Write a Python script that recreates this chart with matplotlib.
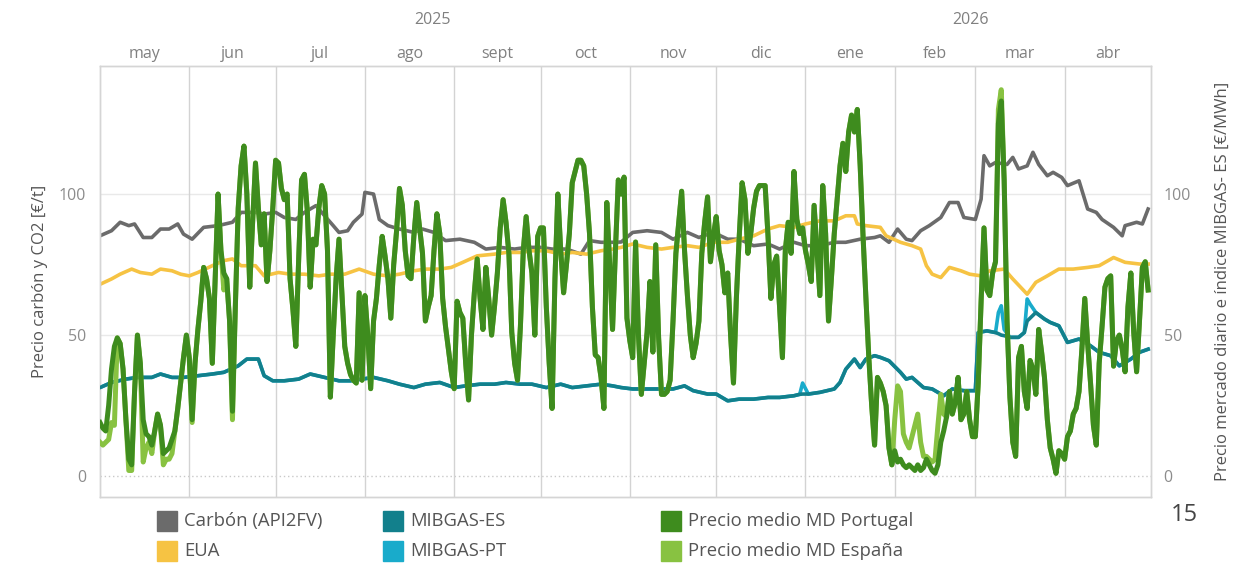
import matplotlib
matplotlib.use("Agg")
import matplotlib.pyplot as plt
import pandas as pd
from matplotlib.patches import Rectangle

plt.rcParams['font.family'] = ['Open Sans', 'DejaVu Sans']

start = pd.Timestamp('2025-05-01')
month_labels = ['may', 'jun', 'jul', 'ago', 'sept', 'oct', 'nov', 'dic', 'ene', 'feb', 'mar', 'abr']
year_labels = ['2025', '2026']
y_ticks = [0, 50, 100]

# Precio medio MD Portugal (€/MWh), daily from 2025-05-01
portugal = [
    19, 17, 16, 25, 38, 46, 49, 47, 38, 20,
    6, 4, 30, 50, 40, 20, 15, 14, 11, 16,
    22, 18, 8, 9, 10, 13, 16, 24, 33, 42,
    50, 42, 20, 40, 52, 62, 74, 70, 63, 40,
    70, 100, 80, 72, 70, 55, 23, 60, 95, 110,
    117, 100, 67, 90, 111, 95, 82, 93, 69, 80,
    95, 112, 111, 102, 98, 100, 70, 59, 46, 77,
    105, 107, 94, 67, 84, 82, 95, 103, 100, 80,
    28, 50, 70, 84, 65, 46, 40, 36, 34, 33,
    65, 34, 64, 50, 31, 55, 63, 75, 85, 78,
    70, 56, 75, 87, 102, 96, 80, 71, 70, 85,
    97, 88, 79, 55, 60, 64, 80, 93, 86, 63,
    53, 45, 37, 31, 62, 58, 56, 40, 27, 50,
    65, 77, 63, 52, 74, 63, 50, 60, 72, 88,
    98, 90, 79, 51, 40, 34, 53, 80, 92, 80,
    72, 50, 85, 88, 88, 60, 40, 24, 70, 100,
    80, 65, 75, 86, 104, 108, 112, 112, 110, 100,
    86, 60, 43, 42, 35, 24, 97, 75, 52, 80,
    105, 100, 106, 56, 48, 42, 83, 50, 29, 40,
    51, 69, 44, 82, 49, 29, 29, 30, 34, 55,
    79, 90, 101, 80, 64, 50, 42, 47, 55, 79,
    90, 99, 76, 85, 92, 80, 75, 65, 72, 50,
    33, 63, 85, 104, 98, 79, 86, 95, 101, 103,
    103, 103, 85, 63, 75, 78, 60, 42, 80, 90,
    79, 108, 91, 86, 88, 80, 75, 69, 96, 80,
    64, 103, 86, 55, 70, 86, 98, 110, 118, 108,
    122, 128, 122, 130, 110, 85, 63, 42, 25, 11,
    35, 33, 30, 25, 10, 4, 9, 5, 6, 4,
    3, 4, 3, 2, 4, 2, 3, 6, 4, 2,
    1, 4, 12, 16, 21, 30, 22, 26, 35, 20,
    22, 30, 20, 14, 14, 33, 62, 88, 66, 64,
    72, 76, 125, 133, 105, 55, 28, 12, 7, 42,
    46, 30, 24, 41, 38, 29, 52, 44, 35, 20,
    10, 6, 1, 9, 8, 6, 14, 16, 22, 24,
    30, 45, 63, 47, 33, 18, 11, 40, 53, 67,
    70, 71, 39, 48, 50, 45, 37, 60, 72, 51,
    37, 55, 74, 76, 66,
]

# Precio medio MD España (€/MWh), daily from 2025-05-01
espana = [
    12, 11, 12, 13, 19, 18, 49, 47, 38, 20,
    2, 2, 30, 50, 40, 5, 10, 12, 8, 16,
    22, 18, 4, 6, 6, 8, 16, 24, 33, 42,
    50, 42, 19, 40, 52, 62, 74, 70, 63, 40,
    70, 100, 80, 66, 70, 55, 20, 60, 95, 110,
    117, 100, 67, 90, 111, 95, 82, 93, 69, 80,
    95, 112, 111, 102, 98, 100, 70, 59, 46, 77,
    105, 107, 94, 67, 84, 82, 95, 103, 100, 80,
    28, 50, 70, 84, 65, 46, 40, 36, 34, 33,
    65, 34, 64, 50, 31, 55, 63, 75, 85, 78,
    70, 56, 75, 87, 102, 96, 80, 71, 70, 85,
    97, 88, 79, 55, 60, 64, 80, 93, 86, 63,
    53, 45, 37, 31, 62, 58, 56, 40, 27, 50,
    65, 77, 63, 52, 74, 63, 50, 60, 72, 88,
    98, 90, 79, 51, 40, 34, 53, 80, 92, 80,
    72, 50, 85, 88, 88, 60, 40, 24, 70, 100,
    80, 65, 75, 86, 104, 108, 112, 112, 110, 100,
    86, 60, 43, 42, 35, 24, 97, 75, 52, 80,
    105, 100, 106, 56, 48, 42, 83, 50, 29, 40,
    51, 69, 44, 82, 49, 29, 29, 30, 34, 55,
    79, 90, 101, 80, 64, 50, 42, 47, 55, 79,
    90, 99, 76, 85, 92, 80, 75, 65, 72, 50,
    33, 63, 85, 104, 98, 79, 86, 95, 101, 103,
    103, 103, 85, 63, 75, 78, 60, 42, 80, 90,
    79, 108, 91, 86, 88, 80, 75, 69, 96, 80,
    64, 103, 86, 55, 70, 86, 98, 110, 118, 108,
    122, 128, 122, 130, 110, 85, 63, 42, 25, 11,
    35, 33, 30, 25, 10, 4, 20, 32, 30, 15,
    12, 10, 14, 18, 22, 12, 7, 7, 6, 5,
    6, 18, 29, 22, 21, 30, 22, 26, 35, 20,
    22, 30, 20, 14, 14, 33, 62, 88, 66, 64,
    72, 76, 130, 137, 105, 55, 28, 12, 7, 42,
    46, 30, 24, 41, 38, 29, 52, 44, 35, 20,
    10, 6, 1, 9, 8, 6, 14, 16, 22, 24,
    30, 45, 63, 47, 33, 18, 11, 40, 53, 67,
    70, 71, 39, 48, 50, 45, 37, 60, 72, 51,
    37, 55, 74, 76, 66,
]

# Carbón (API2FV) €/t
carbon_days = [0, 4, 7, 10, 12, 15, 18, 21, 24, 27, 29, 32, 36, 41, 46, 49, 54, 57, 61, 64,
               68, 71, 75, 78, 81, 83, 86, 88, 91, 92, 95, 97, 100, 104, 109, 112, 116, 120, 125, 130,
               134, 139, 144, 148, 153, 157, 162, 167, 170, 174, 178, 181, 185, 190, 195, 199, 204, 208, 213, 218,
               222, 227, 232, 236, 241, 245, 250, 255, 259, 264, 269, 271, 274, 277, 280, 282, 285, 288, 292, 295,
               298, 300, 304, 306, 307, 309, 311, 315, 317, 319, 322, 324, 326, 329, 331, 334, 336, 340, 343, 346,
               348, 352, 355, 356, 360, 362, 364]
carbon = [85.2, 87, 90, 88.8, 89.4, 84.6, 84.6, 87.6, 87.6, 89.4, 85.8, 84, 88.2, 88.8, 90, 93.5, 93.5, 92.9, 93.5, 91.7,
          91, 93.5, 95.9, 92.3, 88.8, 86.4, 87, 90, 92.9, 100.6, 100, 91, 88.8, 87.6, 86.4, 87.6, 86.4, 83.5, 84, 82.9,
          80.5, 81.1, 80.5, 81.1, 81.1, 80.5, 80.5, 78.7, 83.5, 82.9, 82.9, 83, 86.4, 87, 86.4, 84, 86.4, 84.6, 86.4, 84,
          84, 81.7, 82.3, 80.5, 82.9, 81.7, 81.7, 82.9, 82.9, 84, 84.6, 85.2, 82.9, 87.6, 84, 83.5, 87, 88.8, 91.7, 97,
          97, 91.7, 91, 98.2, 113.6, 110, 111.2, 110.5, 113, 108.9, 110, 114.8, 110.5, 106.5, 107.7, 105.9, 103, 104.7, 94.7, 93.5,
          91, 88.2, 85.2, 88.8, 90, 89.4, 94.7]

# EUA €/t
eua_days = [0, 4, 7, 11, 14, 18, 21, 25, 28, 31, 34, 39, 43, 46, 49, 54, 57, 62, 66, 71,
            76, 80, 85, 90, 95, 100, 104, 109, 113, 118, 122, 126, 131, 137, 141, 146, 150, 155, 160, 164,
            169, 174, 178, 181, 185, 190, 195, 199, 204, 208, 213, 218, 222, 227, 232, 236, 241, 245, 250, 255,
            259, 262, 263, 266, 271, 273, 278, 282, 285, 287, 289, 292, 295, 299, 302, 306, 309, 314, 317, 322,
            325, 329, 333, 338, 343, 347, 352, 356, 361, 364]
eua = [68, 69.9, 71.6, 73.4, 72.2, 71.6, 73.4, 72.8, 71.6, 71, 72.2, 74.6, 76.4, 77, 74.6, 74.6, 71, 72.2, 71.6, 71.6,
       71, 71.6, 71.6, 73.4, 71.6, 71, 71.6, 72.8, 73.4, 73.4, 74, 75.8, 78.1, 78.7, 79.3, 79.3, 79.9, 79.9, 78.7, 79.3,
       78.7, 79.9, 80.5, 81.1, 82.3, 81.1, 80.5, 81.1, 81.7, 81.1, 82.9, 82.9, 84, 85.2, 87.6, 88.8, 88.2, 89.4, 90.5, 90.5,
       92.3, 92.3, 89.4, 88.8, 88.2, 85.2, 82.9, 81.7, 80.5, 74.6, 71.6, 70.4, 74, 72.8, 71.6, 71, 72.8, 73.4, 69.9, 64.5,
       68.7, 71, 73.4, 73.4, 74, 74.6, 77.5, 75.8, 75.2, 75.2]

# MIBGAS (€/MWh)
gas_days = [0, 4, 9, 13, 18, 21, 25, 29, 34, 39, 43, 48, 51, 55, 57, 60, 64, 69, 73, 78,
            83, 87, 91, 95, 100, 104, 109, 113, 118, 123, 127, 132, 137, 141, 146, 150, 155, 160, 164, 169,
            174, 178, 181, 185, 190, 195, 199, 203, 206, 211, 214, 218, 222, 227, 232, 236, 241, 243, 244, 246,
            250, 255, 257, 259, 262, 264, 266, 269, 271, 274, 278, 280, 282, 286, 289, 293, 296, 300, 304, 305,
            308, 311, 312, 313, 314, 316, 319, 321, 322, 323, 325, 328, 330, 333, 336, 340, 344, 347, 351, 354,
            358, 361, 364]
mibgas_es = [31.4, 33.2, 34.4, 35, 35, 36.2, 35, 35, 35.6, 36.2, 36.8, 39.1, 41.5, 41.5, 35.6, 33.8, 33.8, 34.4, 36.2, 35,
             33.8, 33.8, 34.4, 35, 33.8, 32.6, 31.4, 32.6, 33.2, 31.4, 32, 32.6, 32.6, 33.2, 32.6, 32.6, 31.4, 32.6, 31.4, 32,
             32.6, 32, 31.4, 30.9, 30.9, 30.9, 30.9, 32, 30.3, 29.1, 29.1, 26.7, 27.3, 27.3, 27.9, 27.9, 28.5, 29, 29.1, 29.1,
             29.7, 30.9, 33.2, 37.9, 41.5, 38.5, 41.5, 42.7, 42.1, 40.9, 36.8, 34.4, 35, 31.4, 30.9, 28.5, 30.9, 30.3, 30.3, 50.9,
             51.5, 50.9, 50.5, 50, 49.8, 49.2, 49.2, 50.9, 55, 56, 58, 55.7, 54.5, 53.3, 47.4, 48.6, 46.2, 43.9, 42.7, 39.1,
             41.5, 43.9, 45]
mibgas_pt = [31.4, 33.2, 34.4, 35, 35, 36.2, 35, 35, 35.6, 36.2, 36.8, 39.1, 41.5, 41.5, 35.6, 33.8, 33.8, 34.4, 36.2, 35,
             33.8, 33.8, 34.4, 35, 33.8, 32.6, 31.4, 32.6, 33.2, 31.4, 32, 32.6, 32.6, 33.2, 32.6, 32.6, 31.4, 32.6, 31.4, 32,
             32.6, 32, 31.4, 30.9, 30.9, 30.9, 30.9, 32, 30.3, 29.1, 29.1, 26.7, 27.3, 27.3, 27.9, 27.9, 28.5, 29, 33, 29.1,
             29.7, 30.9, 33.2, 37.9, 41.5, 38.5, 41.5, 42.7, 42.1, 40.9, 36.8, 34.4, 35, 31.4, 30.9, 28.5, 30.9, 30.3, 30.3, 50.9,
             51.5, 50.9, 58, 60.4, 52, 49.2, 49.2, 50.9, 62.8, 61, 58, 55.7, 54.5, 53.3, 47.4, 48.6, 46.2, 43.9, 42.7, 39.1,
             41.5, 43.9, 45]

C_CARBON = '#6b6b6b'
C_EUA = '#F6C343'
C_ES_GAS = '#12808C'
C_PT_GAS = '#19ABCB'
C_PT = '#3E8C1E'
C_ES = '#88C241'


def to_dates(days):
    return start + pd.to_timedelta(days, unit='D')


daily = to_dates(list(range(len(portugal))))

fig = plt.figure(figsize=(12.34, 5.65), dpi=100)
ax = fig.add_axes([0.08104, 0.12035, 0.85170, 0.76283])
ax2 = ax.twinx()

ylim = (-7.4, 145.4)
month_starts = pd.date_range(start, periods=13, freq='MS')
ax.set_xlim(month_starts[0], month_starts[-1])
ax.set_ylim(*ylim)
ax2.set_ylim(*ylim)

# grid
for v in (50, 100):
    ax.axhline(v, color='#e9e9e9', lw=1, zorder=0)
ax.axhline(0, color='#c9c9c9', lw=1, ls=(0, (1, 2)), zorder=0)
for m in month_starts[1:-1]:
    ax.axvline(m, color='#d3d3d3', lw=1, zorder=0.5)

ax.plot(to_dates(carbon_days), carbon, color=C_CARBON, lw=2.6, zorder=2, solid_joinstyle='round')
ax.plot(to_dates(eua_days), eua, color=C_EUA, lw=2.6, zorder=2, solid_joinstyle='round')

ax2.plot(to_dates(gas_days), mibgas_pt, color=C_PT_GAS, lw=2.6, zorder=2, solid_joinstyle='round')
ax2.plot(to_dates(gas_days), mibgas_es, color=C_ES_GAS, lw=2.6, zorder=3, solid_joinstyle='round')
ax2.plot(daily, espana, color=C_ES, lw=3.6, zorder=4, solid_joinstyle='round')
ax2.plot(daily, portugal, color=C_PT, lw=3.6, zorder=5, solid_joinstyle='round')

for a in (ax, ax2):
    for s in a.spines.values():
        s.set_color('#d5d5d5')
        s.set_linewidth(1)

# month labels on top
mids = [month_starts[i] + (month_starts[i + 1] - month_starts[i]) / 2 for i in range(12)]
ax.set_xticks(mids)
ax.set_xticklabels(month_labels)
ax.tick_params(axis='x', top=True, bottom=False, labeltop=True, labelbottom=False,
               length=0, pad=3, labelcolor='#808080', labelsize=11.5)
ax2.tick_params(axis='x', length=0)

ax.text(0.316, 1.107, year_labels[0], transform=ax.transAxes, ha='center', va='center',
        fontsize=11.5, color='#808080')
ax.text(0.828, 1.107, year_labels[1], transform=ax.transAxes, ha='center', va='center',
        fontsize=11.5, color='#808080')

ax.set_yticks(y_ticks)
ax2.set_yticks(y_ticks)
ax.tick_params(axis='y', length=0, pad=10, labelcolor='#8c8c8c', labelsize=11.5)
ax2.tick_params(axis='y', length=0, pad=9, labelcolor='#8c8c8c', labelsize=11.5)

ax.set_ylabel('Precio carbón y CO2 [€/t]', fontsize=12, color='#555555')
ax.yaxis.set_label_coords(-0.0495, 0.5)
ax2.set_ylabel('Precio mercado diario e índice MIBGAS- ES [€/MWh]', fontsize=12, color='#555555')
ax2.yaxis.set_label_coords(1.061, 0.5)

# legend
entries = [
    ('Carbón (API2FV)', C_CARBON, 157, 0), ('EUA', C_EUA, 157, 1),
    ('MIBGAS-ES', C_ES_GAS, 383, 0), ('MIBGAS-PT', C_PT_GAS, 383, 1),
    ('Precio medio MD Portugal', C_PT, 661, 0), ('Precio medio MD España', C_ES, 661, 1),
]
W, H = 1234, 565
for label, col, x0, row in entries:
    yc = 521 + 30 * row
    fig.patches.append(Rectangle((x0 / W, 1 - (yc + 10) / H), 20 / W, 20 / H,
                                 transform=fig.transFigure, color=col, zorder=5))
    fig.text((x0 + 27) / W, 1 - yc / H, label, ha='left', va='center', fontsize=13.3, color='#555555')

fig.text(1184 / W, 1 - 515 / H, '15', ha='center', va='center', fontsize=17, color='#444444')

fig.savefig('out.png', dpi=100)
